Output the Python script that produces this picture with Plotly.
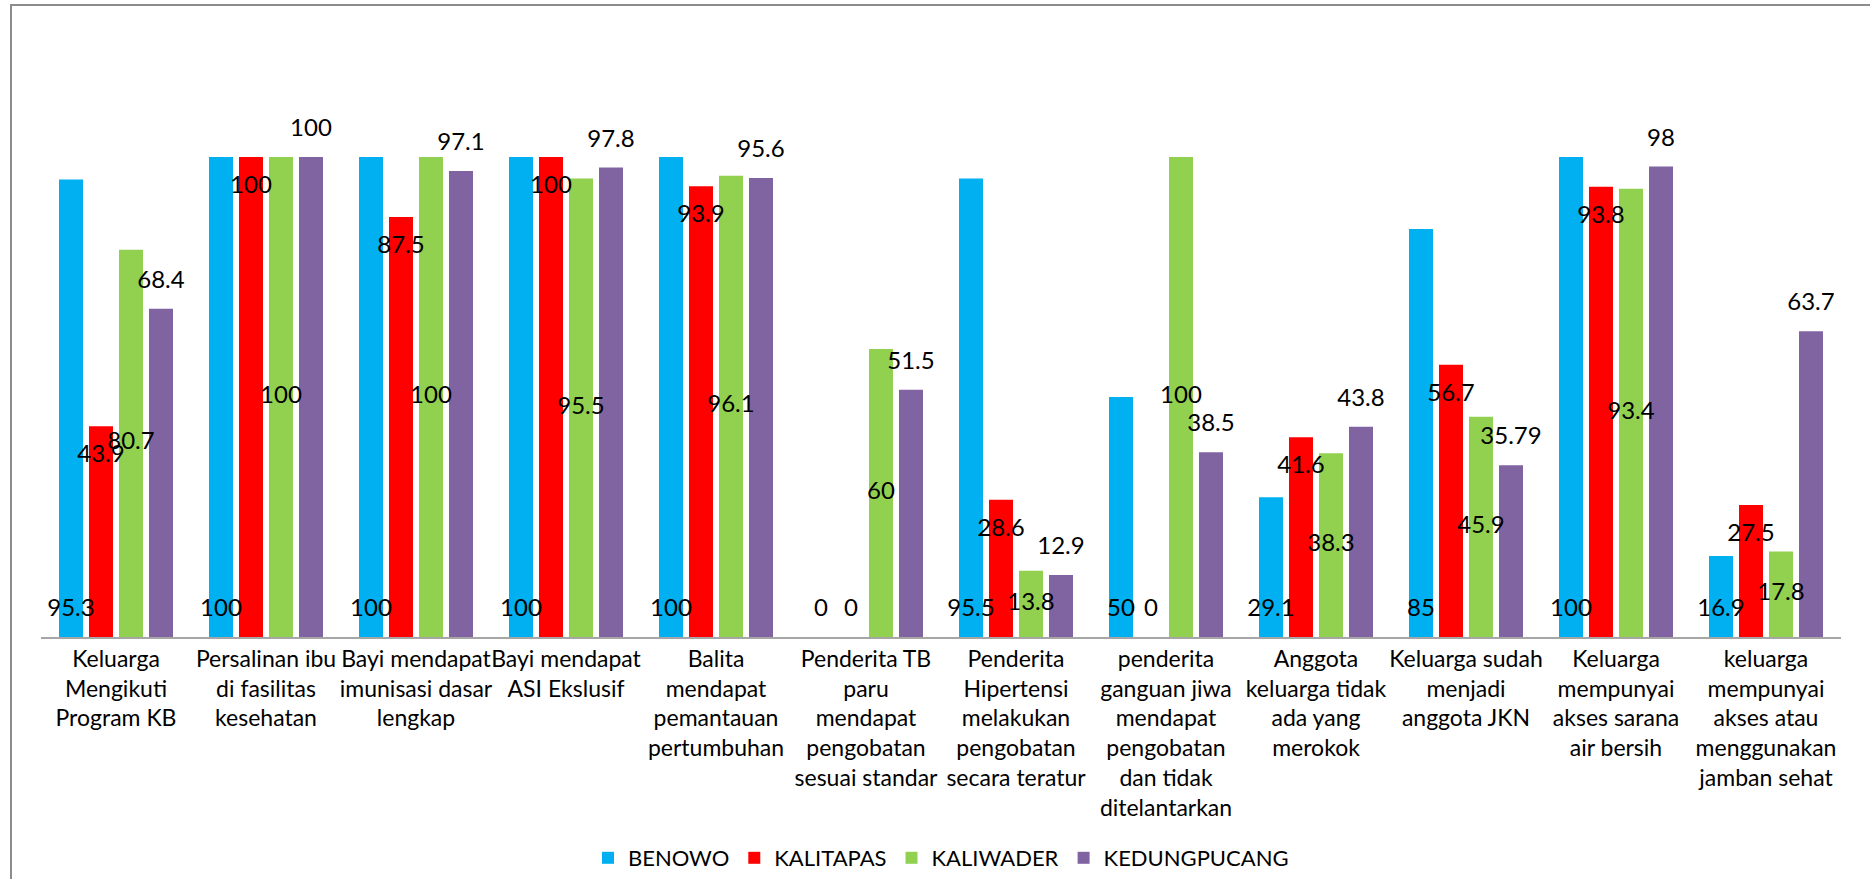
import plotly.graph_objects as go

# indicator categories (x axis)
categories = [
    "Keluarga<br>Mengikuti<br>Program KB",
    "Persalinan ibu<br>di fasilitas<br>kesehatan",
    "Bayi mendapat<br>imunisasi dasar<br>lengkap",
    "Bayi mendapat<br>ASI Ekslusif",
    "Balita<br>mendapat<br>pemantauan<br>pertumbuhan",
    "Penderita TB<br>paru<br>mendapat<br>pengobatan<br>sesuai standar",
    "Penderita<br>Hipertensi<br>melakukan<br>pengobatan<br>secara teratur",
    "penderita<br>ganguan jiwa<br>mendapat<br>pengobatan<br>dan tidak<br>ditelantarkan",
    "Anggota<br>keluarga tidak<br>ada yang<br>merokok",
    "Keluarga sudah<br>menjadi<br>anggota JKN",
    "Keluarga<br>mempunyai<br>akses sarana<br>air bersih",
    "keluarga<br>mempunyai<br>akses atau<br>menggunakan<br>jamban sehat",
]

benowo = [95.3, 100, 100, 100, 100, 0, 95.5, 50, 29.1, 85, 100, 16.9]
kalitapas = [43.9, 100, 87.5, 100, 93.9, 0, 28.6, 0, 41.6, 56.7, 93.8, 27.5]
kaliwader = [80.7, 100, 100, 95.5, 96.1, 60, 13.8, 100, 38.3, 45.9, 93.4, 17.8]
kedungpucang = [68.4, 100, 97.1, 97.8, 95.6, 51.5, 12.9, 38.5, 43.8, 35.79, 98, 63.7]

FONT = "Lato"
W, H = 1870, 879
L, T, R, B = 41, 61, 29, 242
pw, ph = W - L - R, H - T - B
YMAX = 120
PAD = 27 * YMAX / ph   # label centre distance from bar end, in data units


# excel style label spots: inside base / inside end / centre / outside end
def at_base(vals):
    return [PAD for v in vals]


def inside_end(vals):
    return [v - PAD - 0.6 if v > 2 * PAD else PAD for v in vals]


def centre(vals):
    return [v / 2 if v > 0 else PAD for v in vals]


def outside_end(vals):
    return [v + PAD for v in vals]


series = [
    ("BENOWO", benowo, "#00B0F0", at_base),
    ("KALITAPAS", kalitapas, "#FF0000", inside_end),
    ("KALIWADER", kaliwader, "#92D050", centre),
    ("KEDUNGPUCANG", kedungpucang, "#8064A2", outside_end),
]

fig = go.Figure()
for name, vals, col, spot in series:
    fig.add_trace(go.Bar(
        x=categories, y=vals, name=name,
        marker=dict(color=col, line=dict(width=0)),
        hoverinfo="x+y+name",
    ))
for name, vals, col, spot in series:
    fig.add_trace(go.Scatter(
        x=categories, y=spot(vals), mode="text",
        text=[f"{v:g}" for v in vals], textposition="middle center",
        textfont=dict(family=FONT, size=24, color="black"),
        showlegend=False, hoverinfo="skip", cliponaxis=False,
    ))

fig.update_layout(
    width=W, height=H,
    margin=dict(l=L, r=R, t=T, b=B, autoexpand=False),
    plot_bgcolor="white", paper_bgcolor="white",
    barmode="group", bargap=0.2, bargroupgap=0.2,
    scattermode="group", scattergap=0.2,
    font=dict(family=FONT, size=22, color="black"),
    legend=dict(orientation="h", x=0.5, xanchor="center",
                y=-(858 - (H - B)) / ph, yanchor="middle",
                font=dict(family=FONT, size=22, color="black"),
                traceorder="normal"),
    xaxis=dict(showline=True, linecolor="#A6A6A6", linewidth=2,
               tickangle=0, ticks="", showgrid=False, ticklabelstandoff=0,
               automargin=False,
               tickfont=dict(family=FONT, size=23, color="black")),
    yaxis=dict(range=[0, YMAX], visible=False, showgrid=False),
    shapes=[dict(type="rect", xref="paper", yref="paper",
                 x0=(11 - L) / pw, x1=1.2, y0=-1.0, y1=(H - B - 5) / ph,
                 line=dict(color="#8C8C8C", width=2), layer="below")],
)

fig.write_html("out.html", config={"displayModeBar": False},
               post_script="document.body.style.margin='0';")
